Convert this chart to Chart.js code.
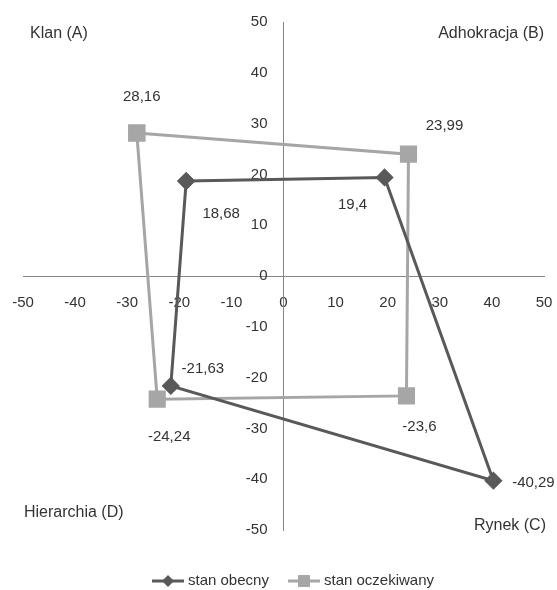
<!DOCTYPE html>
<html>
<head>
<meta charset="utf-8">
<script src="https://cdn.jsdelivr.net/npm/chart.js@4/dist/chart.umd.min.js"></script>
<style>
  html, body { margin: 0; padding: 0; background: #fff; }
</style>
</head>
<body>
<canvas id="canvas" width="557" height="590"></canvas>
<script>
  // quadrant names, in order A B C D
  const quadrants = ['Klan (A)', 'Adhokracja (B)', 'Rynek (C)', 'Hierarchia (D)'];
  const seriesNames = ['stan obecny', 'stan oczekiwany'];

  // points A, B, C, D of each polygon
  const obecnyX = [-18.68, 19.4, 40.29, -21.63];
  const obecnyY = [18.68, 19.4, -40.29, -21.63];
  const oczekiwanyX = [-28.16, 23.99, 23.6, -24.24];
  const oczekiwanyY = [28.16, 23.99, -23.6, -24.24];

  const axisMin = -50, axisMax = 50, axisStep = 10;

  const FONT = "'Liberation Sans', Arial, sans-serif";
  const TEXT = '#333333';
  const colors = ['#595959', '#a6a6a6'];

  // close the polygon by going back to the first point
  function polygon(xs, ys) {
    const pts = xs.map((x, i) => ({x: x, y: ys[i]}));
    pts.push(pts[0]);
    return pts;
  }

  // label offsets (px) from each point, A B C D
  const labelOffsets = [
    [[35, 33], [-32, 27], [40, 2], [32, -17]],
    [[5, -36], [36, -28], [13, 31], [12, 38]]
  ];

  const valueLabels = {
    id: 'valueLabels',
    afterDatasetsDraw(chart) {
      const ctx = chart.ctx;
      ctx.save();
      ctx.font = '15px ' + FONT;
      ctx.fillStyle = TEXT;
      ctx.textAlign = 'center';
      ctx.textBaseline = 'middle';
      chart.data.datasets.forEach((ds, i) => {
        const meta = chart.getDatasetMeta(i);
        for (let j = 0; j < 4; j++) {
          const el = meta.data[j];
          const txt = String(ds.data[j].y).replace('.', ',');
          ctx.fillText(txt, el.x + labelOffsets[i][j][0], el.y + labelOffsets[i][j][1]);
        }
      });
      ctx.restore();
    }
  };

  const quadrantLabels = {
    id: 'quadrantLabels',
    afterDraw(chart) {
      const ctx = chart.ctx;
      const a = chart.chartArea;
      ctx.save();
      ctx.font = '16px ' + FONT;
      ctx.fillStyle = TEXT;
      ctx.textBaseline = 'middle';
      ctx.textAlign = 'left';
      ctx.fillText(quadrants[0], a.left + 7, a.top + 12);
      ctx.fillText(quadrants[3], a.left + 1, a.bottom - 17);
      ctx.textAlign = 'right';
      ctx.fillText(quadrants[1], a.right, a.top + 12);
      ctx.fillText(quadrants[2], a.right + 2, a.bottom - 4);
      ctx.restore();
    }
  };

  // legend: line with marker, then the name
  const lineLegend = {
    id: 'lineLegend',
    afterDraw(chart) {
      const ctx = chart.ctx;
      const y = 581;
      const starts = [152, 288];
      ctx.save();
      ctx.font = '15px ' + FONT;
      ctx.textBaseline = 'middle';
      ctx.textAlign = 'left';
      chart.data.datasets.forEach((ds, i) => {
        const x0 = starts[i];
        ctx.strokeStyle = ds.borderColor;
        ctx.fillStyle = ds.borderColor;
        ctx.lineWidth = 3;
        ctx.beginPath();
        ctx.moveTo(x0, y);
        ctx.lineTo(x0 + 32, y);
        ctx.stroke();
        const cx = x0 + 16;
        ctx.beginPath();
        if (ds.pointStyle === 'rectRot') {
          ctx.moveTo(cx - 6, y);
          ctx.lineTo(cx, y - 6);
          ctx.lineTo(cx + 6, y);
          ctx.lineTo(cx, y + 6);
          ctx.closePath();
        } else {
          ctx.rect(cx - 6, y - 6, 12, 12);
        }
        ctx.fill();
        ctx.fillStyle = TEXT;
        ctx.fillText(ds.label, x0 + 36, y);
      });
      ctx.restore();
    }
  };

  const data = {
    datasets: [{
      label: seriesNames[0],
      data: polygon(obecnyX, obecnyY),
      borderColor: colors[0],
      backgroundColor: colors[0],
      borderWidth: 3,
      pointStyle: 'rectRot',
      pointRadius: 7,
      pointHoverRadius: 7,
      showLine: true
    }, {
      label: seriesNames[1],
      data: polygon(oczekiwanyX, oczekiwanyY),
      borderColor: colors[1],
      backgroundColor: colors[1],
      borderWidth: 3,
      pointStyle: 'rect',
      pointRadius: 10,
      pointHoverRadius: 10,
      showLine: true
    }]
  };

  const tickFont = {family: FONT, size: 15};
  const axisLine = {display: true, color: '#868686', width: 1};

  const config = {
    type: 'scatter',
    data: data,
    options: {
      responsive: false,
      animation: false,
      layout: {padding: {left: 23, right: 12, top: 22, bottom: 60}},
      plugins: {legend: {display: false}, tooltip: {enabled: false}},
      scales: {
        x: {
          type: 'linear', min: axisMin, max: axisMax, position: {y: 0},
          ticks: {stepSize: axisStep, padding: 0, color: TEXT, font: tickFont},
          // invisible tick marks only push the labels down
          grid: {drawOnChartArea: false, drawTicks: true, tickLength: 18, tickColor: 'rgba(0,0,0,0)'},
          border: axisLine
        },
        // y labels sit a little left of the axis line
        y: {
          type: 'linear', min: axisMin, max: axisMax, position: {x: -3.07},
          ticks: {stepSize: axisStep, padding: 0, color: TEXT, font: tickFont},
          grid: {drawOnChartArea: false, drawTicks: false},
          border: {display: false}
        },
        yLine: {
          type: 'linear', axis: 'y', min: axisMin, max: axisMax, position: {x: 0},
          ticks: {display: false},
          grid: {drawOnChartArea: false, drawTicks: false},
          border: axisLine
        }
      }
    },
    plugins: [valueLabels, quadrantLabels, lineLegend]
  };

  const chart = new Chart(document.getElementById('canvas'), config);
</script>
</body>
</html>
